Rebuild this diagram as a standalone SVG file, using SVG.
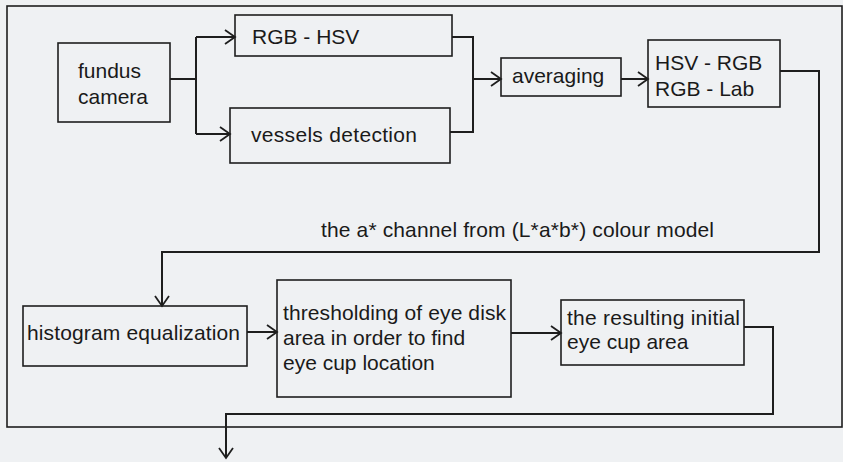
<svg xmlns="http://www.w3.org/2000/svg" width="843" height="462" viewBox="0 0 843 462">
<defs>
<style>
.bx{fill:none;stroke:#1e1e1e;stroke-width:1.6}
.cn{fill:none;stroke:#1e1e1e;stroke-width:2}
text{font-family:"Liberation Sans",Arial,sans-serif;font-size:21px;fill:#1a1a1a}
</style>
<marker id="ah" markerUnits="userSpaceOnUse" markerWidth="14" markerHeight="16" refX="12" refY="8" orient="auto" overflow="visible">
<path d="M2,1 L12,8 L2,15" fill="none" stroke="#1e1e1e" stroke-width="1.8"/>
</marker>
</defs>
<rect x="0" y="0" width="843" height="462" fill="#eff1f3"/>
<rect x="7" y="6" width="835" height="421" fill="none" stroke="#1e1e1e" stroke-width="1.6"/>
<g id="connectors">
<path class="cn" d="M170,79 H196 M196,37 V134"/>
<path class="cn" d="M196,37 H235" marker-end="url(#ah)"/>
<path class="cn" d="M196,134 H230" marker-end="url(#ah)"/>
<path class="cn" d="M452,37 H473 V132 H450 M473,79 H501" marker-end="url(#ah)"/>
<path class="cn" d="M621,79 H648" marker-end="url(#ah)"/>
<path class="cn" d="M780,71 H819 V252 H162 V306" marker-end="url(#ah)"/>
<path class="cn" d="M247,332 H277" marker-end="url(#ah)"/>
<path class="cn" d="M511,333 H561" marker-end="url(#ah)"/>
<path class="cn" d="M744,327 H773 V414 H226 V458" marker-end="url(#ah)"/>
</g>
<g id="fundus">
<rect class="bx" x="58" y="43" width="112" height="79"/>
<text x="78" y="78">fundus</text>
<text x="78" y="104">camera</text>
</g>
<g id="rgbhsv">
<rect class="bx" x="235" y="15" width="217" height="41"/>
<text x="252" y="44">RGB - HSV</text>
</g>
<g id="vessels">
<rect class="bx" x="230" y="108" width="220" height="55"/>
<text x="251" y="142" textLength="166">vessels detection</text>
</g>
<g id="averaging">
<rect class="bx" x="501" y="58" width="120" height="38"/>
<text x="512" y="83">averaging</text>
</g>
<g id="hsvrgb">
<rect class="bx" x="648" y="40" width="132" height="67"/>
<text x="655" y="70">HSV - RGB</text>
<text x="655" y="96">RGB - Lab</text>
</g>
<g id="channel-label">
<text x="321" y="237" textLength="393">the a* channel from (L*a*b*) colour model</text>
</g>
<g id="histogram">
<rect class="bx" x="23" y="306" width="224" height="60"/>
<text x="27" y="340" textLength="213">histogram equalization</text>
</g>
<g id="thresholding">
<rect class="bx" x="277" y="280" width="234" height="117"/>
<text x="283" y="320" textLength="223">thresholding of eye disk</text>
<text x="283" y="345">area in order to find</text>
<text x="283" y="370">eye cup location</text>
</g>
<g id="resulting">
<rect class="bx" x="561" y="300" width="183" height="65"/>
<text x="567" y="325" textLength="173">the resulting initial</text>
<text x="567" y="349">eye cup area</text>
</g>
</svg>
